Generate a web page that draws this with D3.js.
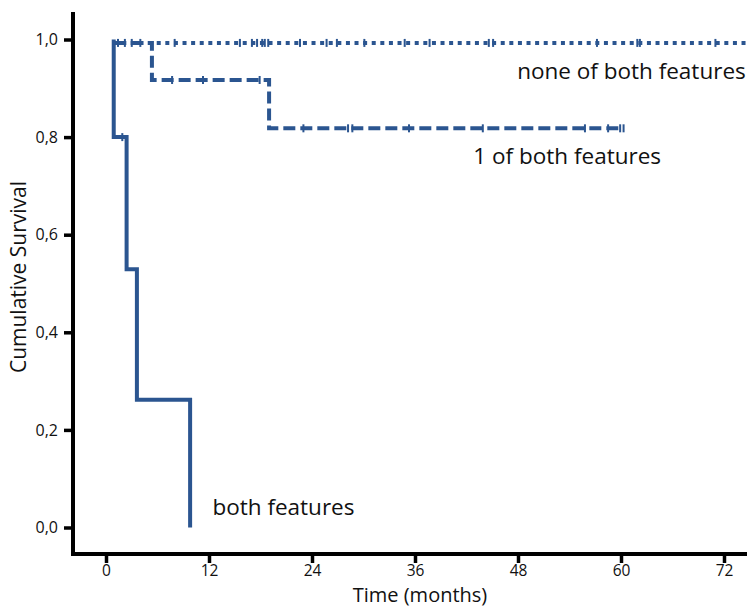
<!DOCTYPE html>
<html>
<head>
<meta charset="utf-8">
<script src="https://cdn.jsdelivr.net/npm/d3@7.9.0/dist/d3.min.js"></script>
<style>
  body { margin: 0; background: #fff; }
  svg text { font-family: "Open Sans", Lato, sans-serif; fill: #111; }
</style>
</head>
<body>
<svg width="747" height="607"></svg>
<script>
// Kaplan-Meier curves (time in months, cumulative survival)
const bothTimes = [0.9, 0.9, 2.4, 3.6, 9.8];
const bothSurv = [1, 0.8, 0.529, 0.262, 0];
const bothCensor = [1.9];

const oneTimes = [0.9, 5.35, 19.0, 60.3];
const oneSurv = [0.993, 0.917, 0.818, 0.818];
const oneCensor = [7.7, 11.3, 17.9, 23.0, 28.2, 28.7, 35.3, 43.9, 55.8, 58.5, 59.9, 60.3];

const noneTimes = [0.9, 74.7];
const noneSurv = [0.993, 0.993];
const noneCensor = [1.4, 2.2, 3.0, 4.0, 8.0, 15.6, 17.0, 17.6, 18.2, 18.5, 18.9, 22.6,
  25.7, 26.9, 30.1, 34.8, 37.7, 44.6, 45.1, 57.2, 61.9, 62.2, 71.0];

const labels = ["both features", "1 of both features", "none of both features"];
const xTicks = [0, 12, 24, 36, 48, 60, 72];
const yTicks = [0, 0.2, 0.4, 0.6, 0.8, 1.0];

const svg = d3.select("svg");
const color = "#2b5590";

const x = d3.scaleLinear().domain([0, 72]).range([106, 724]);
const y = d3.scaleLinear().domain([0, 1]).range([527.5, 39.5]);

const frame = { left: 73, right: 747, top: 12, bottom: 554 };

// curves
const line = d3.line().x(d => x(d[0])).y(d => y(d[1])).curve(d3.curveStepAfter);

// survival value at a given time for a step curve
function survAt(times, surv, t) {
  let s = surv[0];
  for (let i = 0; i < times.length; i++) {
    if (times[i] <= t) s = surv[i];
  }
  return s;
}

const series = [
  { times: bothTimes, surv: bothSurv, censor: bothCensor, dash: null },
  { times: oneTimes, surv: oneSurv, censor: oneCensor, dash: "12,5" },
  { times: noneTimes, surv: noneSurv, censor: noneCensor, dash: "4,4.6" },
];

const plot = svg.append("g");

series.forEach(s => {
  let pts = s.times.map((t, i) => [t, s.surv[i]]);
  plot.append("path")
    .attr("d", line(pts))
    .attr("fill", "none")
    .attr("stroke", color)
    .attr("stroke-width", 4)
    .attr("stroke-dasharray", s.dash);

  plot.selectAll(null)
    .data(s.censor)
    .join("line")
    .attr("x1", d => x(d))
    .attr("x2", d => x(d))
    .attr("y1", d => y(survAt(s.times, s.surv, d)) - 4)
    .attr("y2", d => y(survAt(s.times, s.surv, d)) + 4)
    .attr("stroke", color)
    .attr("stroke-width", 2);
});

// axes
const yAxis = d3.axisLeft(y)
  .tickValues(yTicks)
  .tickSize(9)
  .tickPadding(6)
  .tickFormat(d => d3.format(".1f")(d).replace(".", ","));

const gy = svg.append("g")
  .attr("transform", `translate(${frame.left},0)`)
  .call(yAxis);
gy.select(".domain").remove();
gy.selectAll(".tick line").attr("stroke", "#000").attr("stroke-width", 3.5);
gy.selectAll(".tick text").style("font-size", "16px").attr("fill", "#111");

const xAxis = d3.axisBottom(x)
  .tickValues(xTicks)
  .tickSize(9)
  .tickPadding(2);

const gx = svg.append("g")
  .attr("transform", `translate(0,${frame.bottom})`)
  .call(xAxis);
gx.select(".domain").remove();
gx.selectAll(".tick line").attr("stroke", "#000").attr("stroke-width", 3.5);
gx.selectAll(".tick text").style("font-size", "15.5px").attr("fill", "#111");

// axis lines
svg.append("path")
  .attr("d", `M${frame.left},${frame.top}V${frame.bottom}H${frame.right}`)
  .attr("fill", "none")
  .attr("stroke", "#000")
  .attr("stroke-width", 4);

// titles
svg.append("text")
  .attr("x", 420)
  .attr("y", 601.5)
  .attr("text-anchor", "middle")
  .style("font-size", "20px")
  .text("Time (months)");

svg.append("text")
  .attr("transform", "translate(26,277) rotate(-90)")
  .attr("text-anchor", "middle")
  .style("font-size", "21px")
  .text("Cumulative Survival");

// curve labels
const labelPos = [
  { t: 12.4, v: 0.025 },
  { t: 42.8, v: 0.745 },
  { t: 47.9, v: 0.92 },
];
labels.forEach((l, i) => {
  svg.append("text")
    .attr("x", x(labelPos[i].t))
    .attr("y", y(labelPos[i].v))
    .style("font-size", "22.5px")
    .text(l);
});
</script>
</body>
</html>
